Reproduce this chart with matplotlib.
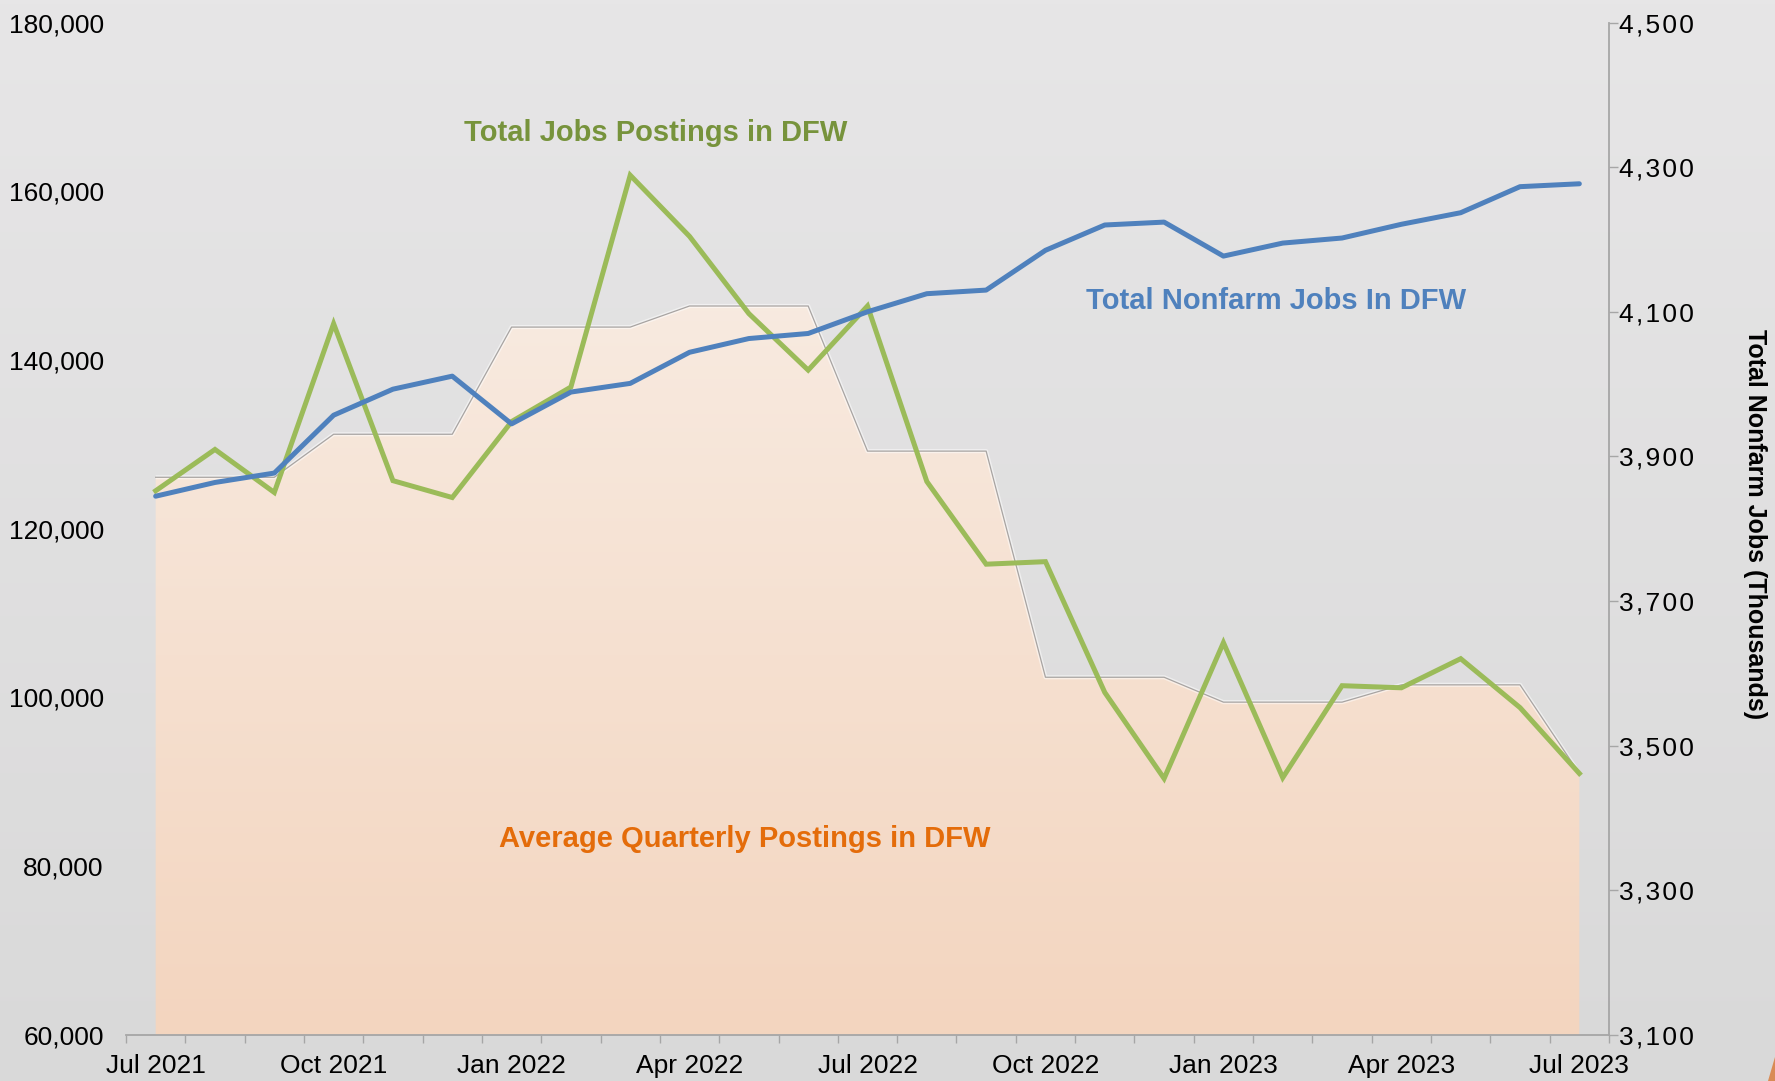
import numpy as np
import matplotlib
matplotlib.use("Agg")
import matplotlib.pyplot as plt
from matplotlib.colors import LinearSegmentedColormap
from matplotlib.patches import Polygon
from matplotlib.ticker import FuncFormatter

plt.rcParams['font.family'] = ['Liberation Sans', 'DejaVu Sans']

# ---------------- data ----------------
months = ['Jul 2021', 'Aug 2021', 'Sep 2021', 'Oct 2021', 'Nov 2021', 'Dec 2021',
          'Jan 2022', 'Feb 2022', 'Mar 2022', 'Apr 2022', 'May 2022', 'Jun 2022',
          'Jul 2022', 'Aug 2022', 'Sep 2022', 'Oct 2022', 'Nov 2022', 'Dec 2022',
          'Jan 2023', 'Feb 2023', 'Mar 2023', 'Apr 2023', 'May 2023', 'Jun 2023',
          'Jul 2023']
postings = [124500, 129400, 124300, 144300, 125700, 123700,
            132700, 136800, 161900, 154650, 145500, 138800,
            146400, 125600, 115800, 116100, 100600, 90400,
            106500, 90500, 101400, 101150, 104600, 98800,
            91000]
quarterly_avg = [126100, 126100, 126100, 131200, 131200, 131200,
                 143900, 143900, 143900, 146400, 146400, 146400,
                 129200, 129200, 129200, 102400, 102400, 102400,
                 99450, 99450, 99450, 101500, 101500, 101500,
                 91000]
nonfarm = [3845, 3864, 3877, 3957, 3993, 4011,
           3945, 3989, 4001, 4044, 4063, 4070,
           4100, 4125, 4130, 4185, 4220, 4224,
           4177, 4195, 4202, 4221, 4237, 4273,
           4277]
left_ticks = [60000, 80000, 100000, 120000, 140000, 160000, 180000]
right_ticks = [3100, 3300, 3500, 3700, 3900, 4100, 4300, 4500]
label_every = 3

W, H = 1775, 1081
fig = plt.figure(figsize=(W / 100, H / 100), dpi=100)

# background gradient
bg = fig.add_axes([0, 0, 1, 1], zorder=-10)
bg_cmap = LinearSegmentedColormap.from_list('bg', ['#D9D9D9', '#E7E6E7'])
bg.imshow(np.linspace(0, 1, 256).reshape(-1, 1)[::-1], aspect='auto',
          cmap=bg_cmap, extent=[0, 1, 0, 1])
bg.set_axis_off()

# orange corner sliver
fig.patches.append(Polygon([[1768 / W, 0], [1, 24 / H], [1, 0]], closed=True,
                           transform=fig.transFigure, facecolor='#D98B55',
                           edgecolor='none'))

L, R = 126 / W, 1609 / W
B, T = 1 - 1035 / H, 1 - 22.5 / H
ax = fig.add_axes([L, B, R - L, T - B])
ax.set_facecolor('none')
x = np.arange(len(months))

ax.set_xlim(-0.5, len(months) - 0.5)
ax.set_ylim(60000, 180000)

# gradient-filled quarterly area
poly = ax.fill_between(x, quarterly_avg, 60000, facecolor='none', edgecolor='none')
area_cmap = LinearSegmentedColormap.from_list('area', ['#F3D5BF', '#F8EBE1'])
grad = np.linspace(0, 1, 256).reshape(-1, 1)
im = ax.imshow(grad, aspect='auto', cmap=area_cmap, origin='lower',
               extent=[-0.5, len(months) - 0.5, 60000, 150000], zorder=1)
im.set_clip_path(poly.get_paths()[0], transform=ax.transData)
ax.plot(x, quarterly_avg, color='#FFFFFF', lw=3, alpha=0.5, zorder=1.5,
        solid_capstyle='butt')
ax.plot(x, quarterly_avg, color='#A8A4A2', lw=0.9, zorder=2)

# postings line
ax.plot(x, postings, color='#9BBB59', lw=3.6, zorder=3, solid_joinstyle='miter')

# axis styling
for s in ['left', 'top', 'right']:
    ax.spines[s].set_visible(False)
ax.spines['bottom'].set_color('#A6A6A6')
ax.spines['bottom'].set_linewidth(1.3)

ax.set_xticks(np.arange(-0.5, len(months), 1))
ax.set_xticklabels([])
ax.tick_params(axis='x', which='major', length=6, width=1, color='#A6A6A6')
lab_idx = list(range(0, len(months), label_every))
ax.set_xticks(lab_idx, minor=True)
ax.set_xticklabels([months[i] for i in lab_idx], minor=True)
ax.tick_params(axis='x', which='minor', length=0, pad=14, labelsize=19)

ax.set_yticks(left_ticks)
ax.yaxis.set_major_formatter(FuncFormatter(lambda v, p: f'{int(v):,}'))
ax.tick_params(axis='y', length=0, pad=16, labelsize=19)

# secondary axis
ax2 = ax.twinx()
ax2.set_ylim(3100, 4500)
ax2.plot(x, nonfarm, color='#4F81BD', lw=3.6, zorder=4, solid_capstyle='round')
for s in ['left', 'top', 'bottom']:
    ax2.spines[s].set_visible(False)
ax2.spines['right'].set_color('#A6A6A6')
ax2.spines['right'].set_linewidth(1.3)
ax2.set_yticks(right_ticks)
ax2.yaxis.set_major_formatter(
    FuncFormatter(lambda v, p: '\u200a'.join(f'{int(v):,}')))
ax2.tick_params(axis='y', length=6.5, width=1, color='#A6A6A6', pad=1, labelsize=19)

# annotations
fig.text(656 / W, 1 - 133 / H, 'Total Jobs Postings in DFW', color='#77933C',
         fontsize=21, fontweight='bold', ha='center', va='center')
fig.text(1276 / W, 1 - 301 / H, 'Total Nonfarm Jobs In DFW', color='#4F81BD',
         fontsize=21, fontweight='bold', ha='center', va='center')
fig.text(745 / W, 1 - 839 / H, 'Average Quarterly Postings in DFW', color='#E46C0A',
         fontsize=21, fontweight='bold', ha='center', va='center')
fig.text(1755 / W, 1 - 524 / H, 'Total Nonfarm Jobs (Thousands)', color='#000000',
         fontsize=18, fontweight='bold', ha='center', va='center', rotation=270)

fig.savefig('out.png', dpi=100)
